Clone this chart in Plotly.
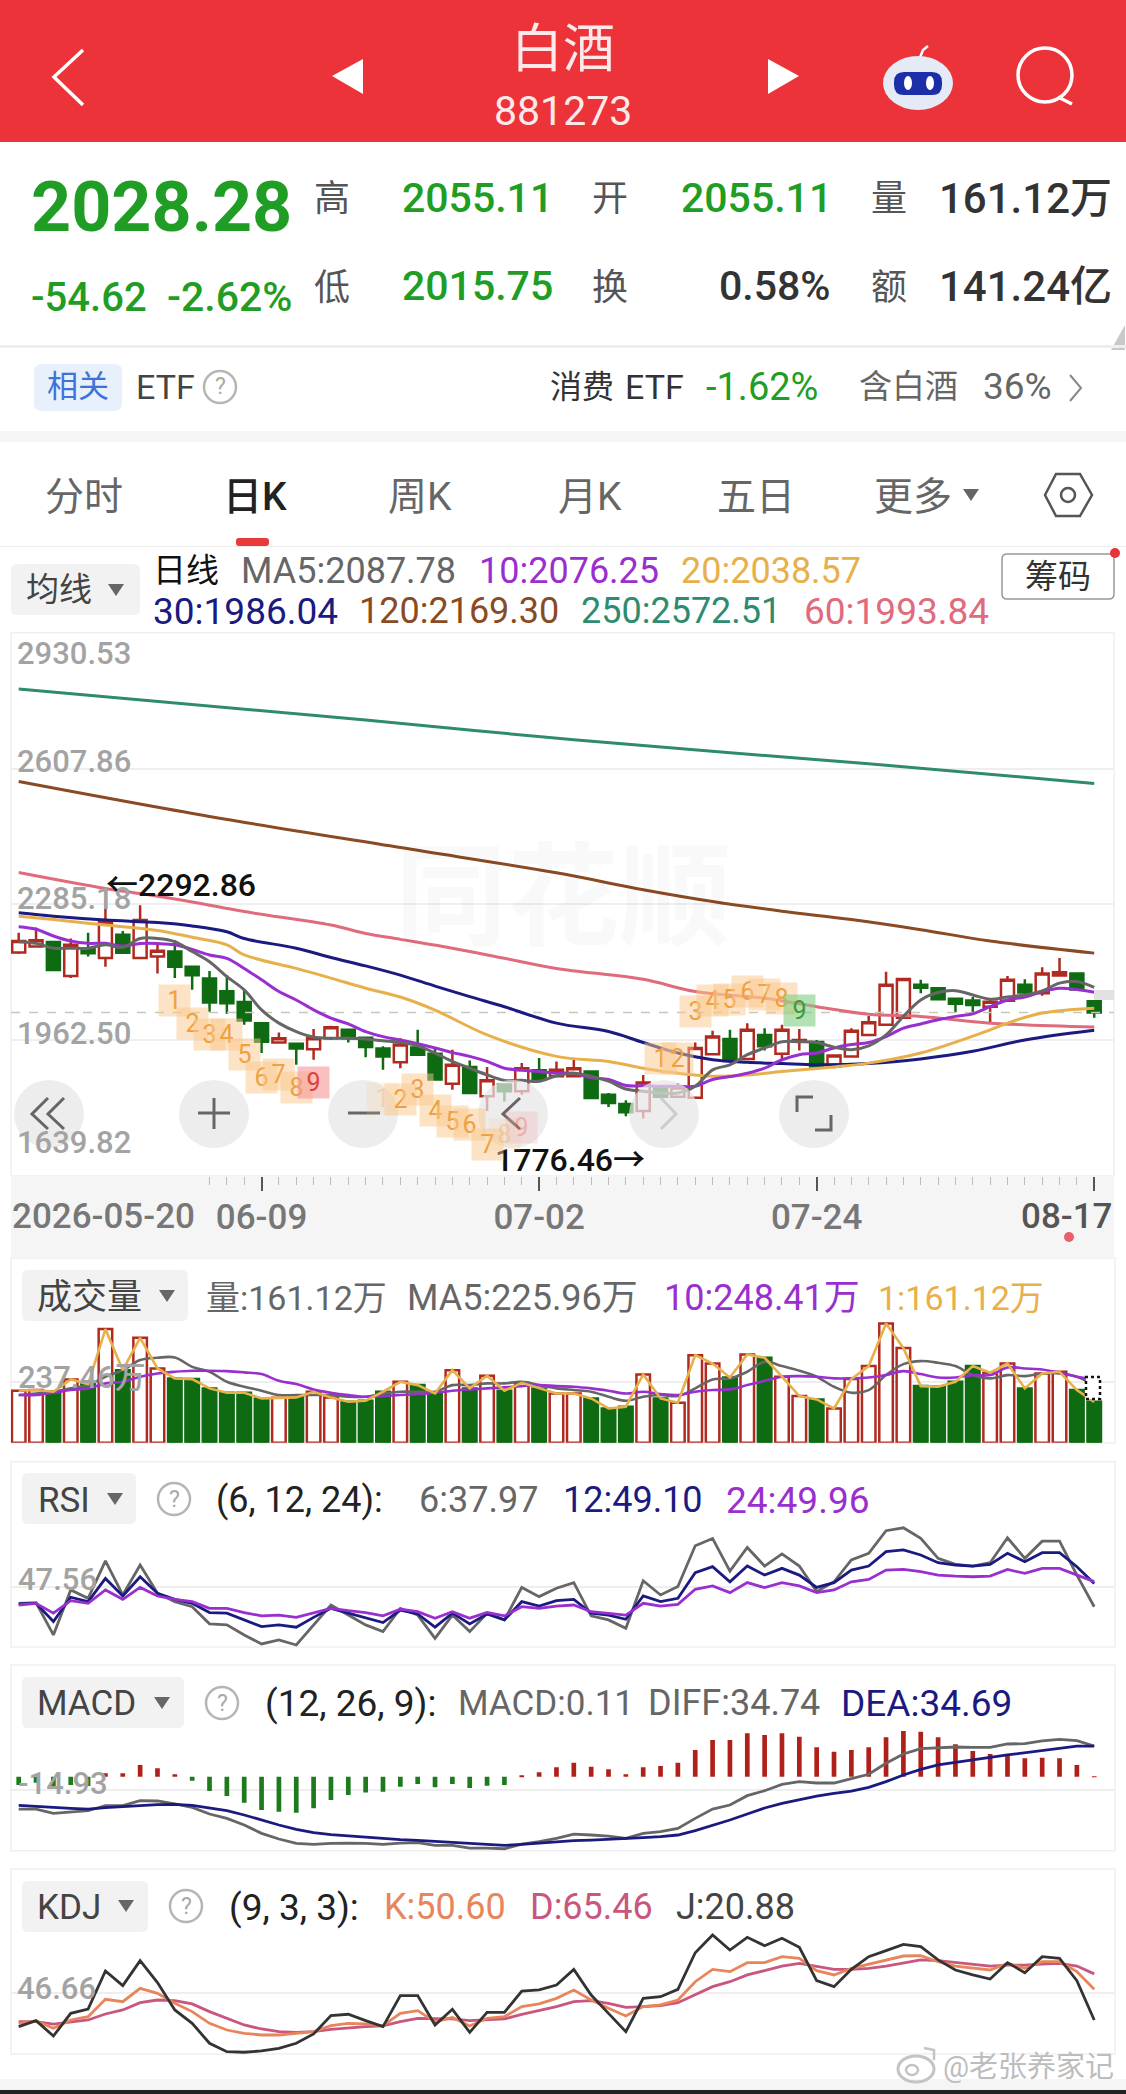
import plotly.graph_objects as go

W, H = 1126, 2094
FONT = "Roboto, Noto Sans CJK SC"

RED = "#b02a20"
GREEN = "#0f6b12"
UP_TXT = "#1f9d24"
C_MA5 = "#666666"
C_MA10 = "#9a2fd0"
C_MA20 = "#e8b04b"
C_MA30 = "#1a1a80"
C_MA60 = "#e06b7d"
C_MA120 = "#8a4a23"
C_MA250 = "#2e8b6f"

# daily candles
opens = [2171, 2185, 2196, 2115, 2181, 2158, 2213, 2158, 2161, 2173, 2137, 2109, 2079, 2053, 2003, 1957, 1954, 1941, 1967, 1987, 1968,
         1943, 1910, 1945, 1930, 1859, 1899, 1829, 1857, 1841, 1891, 1877, 1877, 1888, 1833, 1811, 1794, 1853, 1828, 1826, 1929, 1965,
         1918, 1975, 1930, 1959, 1958, 1900, 1924, 1975, 1999, 2016, 2094, 2086, 2061, 2057, 2042, 2056, 2094, 2074, 2116, 2121, 2055.11]
closes = [2198, 2200, 2129, 2189, 2169, 2244, 2170, 2248, 2175, 2137, 2117, 2052, 2050, 2009, 1959, 1967, 1943, 1967, 1993, 1967, 1946,
          1924, 1952, 1928, 1869, 1904, 1837, 1867, 1841, 1896, 1871, 1892, 1896, 1825, 1813, 1791, 1862, 1828, 1850, 1944, 1971, 1916,
          1987, 1948, 1987, 1963, 1900, 1926, 1985, 2005, 2094, 2108, 2087, 2060, 2049, 2046, 2054, 2106, 2076, 2121, 2124, 2083, 2028.28]
highs = [2218, 2230, 2197, 2204, 2218, 2292.86, 2222, 2283, 2196, 2200, 2139, 2127, 2117, 2082, 2003, 1981, 1956, 1989, 1997, 1987, 1970,
         1948, 1967, 1987, 1944, 1940, 1914, 1899, 1859, 1908, 1920, 1912, 1916, 1888, 1837, 1820, 1880, 1854, 1861, 1957, 1985, 1987,
         2003, 1991, 1999, 1989, 1963, 1928, 1991, 2020, 2125, 2108, 2106, 2087, 2063, 2065, 2060, 2115, 2107, 2136, 2158, 2123, 2055.11]
lows = [2167, 2183, 2128, 2110, 2161, 2137, 2169, 2157, 2121, 2110, 2082, 2030, 2025, 1999, 1932, 1956, 1904, 1916, 1963, 1957, 1922,
        1892, 1896, 1928, 1869, 1845, 1837, 1794, 1817, 1833, 1869, 1877, 1877, 1825, 1804, 1782, 1776.46, 1825, 1825, 1824, 1929, 1912,
        1918, 1938, 1916, 1938, 1900, 1896, 1924, 1975, 1999, 2016, 2074, 2058, 2028, 2027, 2005, 2054, 2066, 2068, 2115, 2082, 2015.75]

ma5 = [2196.5, 2192.5, 2181, 2181, 2181, 2189, 2183, 2204, 2204, 2196.5, 2173, 2149, 2113.5, 2082, 2034.5, 2003, 1983, 1970, 1967, 1967, 1965,
       1961, 1957, 1949, 1932, 1912, 1896, 1880, 1867, 1867, 1865, 1878, 1884, 1876.5, 1865, 1846.5, 1841, 1837, 1837, 1853, 1892, 1904,
       1928, 1944, 1959, 1959, 1957, 1946, 1940, 1949, 1975, 2019, 2058, 2075.6, 2080, 2070, 2060, 2065, 2070, 2079.5, 2098, 2102, 2087.78]
ma10 = [2232, 2226, 2210, 2198, 2192.5, 2192.5, 2186, 2192, 2192, 2189, 2178, 2165, 2157, 2133, 2106, 2078, 2058, 2034.5, 2015, 2001, 1983,
        1971, 1963, 1954, 1944, 1933, 1924, 1912, 1896, 1891, 1888, 1884, 1884, 1873, 1869, 1855, 1854, 1853, 1853, 1853, 1869, 1876,
        1884, 1896, 1916, 1928, 1932, 1944, 1952, 1957, 1971, 1991, 2001, 2011, 2019, 2025, 2042, 2058, 2065, 2078, 2086, 2083, 2076.25]
# the slower averages are read at fewer points along the line
ma20_x = [0, 2, 5, 8, 10, 12, 13, 16, 18, 20, 22, 24, 27, 31, 34, 36, 38, 40, 42, 44, 47, 49, 52, 56, 57, 59, 62]
ma20 = [2257, 2249, 2236, 2223, 2207, 2189, 2165, 2133, 2110, 2086, 2065, 2034, 1975, 1924, 1912, 1896, 1884, 1877, 1880, 1888, 1899, 1908, 1932, 1987, 2003, 2027, 2038.57]
ma30_x = [0, 2, 5, 8, 10, 12, 13, 16, 18, 20, 22, 24, 26, 28, 31, 34, 36, 38, 40, 42, 44, 46, 49, 52, 55, 58, 62]
ma30 = [2265, 2257, 2248, 2242, 2234, 2220, 2204, 2181, 2159, 2139, 2117, 2091, 2066, 2042, 2003, 1983, 1957, 1932, 1916, 1910, 1907, 1904, 1907, 1918, 1936, 1963, 1986.04]
ma60_x = [0, 5, 7, 10, 13, 18, 20, 22, 25, 28, 31, 36, 39, 43, 46, 49, 52, 56, 62]
ma60 = [2361, 2323, 2311, 2291, 2268, 2236, 2216, 2202, 2181, 2157, 2133, 2107, 2078, 2062, 2042, 2024, 2019, 2003, 1993.84]
ma120_x = [0, 11, 22, 31, 36, 40, 44, 48, 52, 56, 62]
ma120 = [2577, 2494, 2420, 2360, 2320, 2292, 2269, 2249, 2225, 2198, 2169.30]
ma250_x = [0, 20, 32, 49, 62]
ma250 = [2797, 2723, 2676, 2619, 2572.51]

# magic nine count tags
td_x = [9, 10, 11, 12, 13, 14, 15, 16, 17, 21, 22, 23, 24, 25, 26, 27, 28, 29, 37, 38, 39, 40, 41, 42, 43, 44, 45]
td_y = [2057, 2003, 1975, 1975, 1928, 1873, 1880, 1849, 1861, 1825, 1821, 1846, 1796, 1770, 1762, 1714, 1738, 1754, 1920, 1920, 2030, 2057, 2058, 2078, 2070, 2062, 2034]
td_n = [1, 2, 3, 4, 5, 6, 7, 8, 9, 1, 2, 3, 4, 5, 6, 7, 8, 9, 1, 2, 3, 4, 5, 6, 7, 8, 9]

price_ticks = [2930.53, 2607.86, 2285.18, 1962.50, 1639.82]
date_ticks = [14, 30, 46, 62]
date_labels = ["06-09", "07-02", "07-24", ""]

vol = [204.8, 207.4, 200.8, 249.4, 231, 447.6, 286, 413.5, 292.7, 253.4, 250.7, 214, 197, 197, 174.6, 177, 178.5, 200.8, 178.5, 161.5, 165.4,
       200.8, 240, 227, 194, 286, 214, 264, 204.8, 236, 214, 194, 194, 174.6, 135, 141.8, 269, 174.6, 157.5, 345, 312, 257,
       348, 334.7, 260, 183.8, 170.6, 135, 250.7, 302, 470, 372.8, 223, 220.5, 240, 302, 275.7, 312, 214, 273, 279.6, 207.4, 161.12]
vol_ma5 = [187.7, 194, 200.8, 214, 227, 260, 286, 325.5, 334.7, 336, 299, 279.6, 240, 220.5, 204.8, 187.7, 187.7, 187.7, 187.7, 181, 181,
           194, 200.8, 200.8, 200.8, 227, 227, 233.7, 233.7, 240, 227, 214, 207.4, 200.8, 181, 165.4, 181, 187.7, 183.8, 214, 249.4, 253.4,
           279.6, 319, 302, 283.5, 260, 220.5, 197, 207.4, 266.5, 309.8, 321.6, 315, 302, 266.5, 253.4, 266.5, 262.5, 273, 273, 260, 225.96]
vol_ma10 = [187.7, 187.7, 197, 207.4, 214, 233.7, 240, 260, 273, 279.6, 283.5, 283.5, 282, 277, 270.4, 244, 231, 210, 197, 187.7, 181,
            183.8, 187.7, 191.7, 197, 204.8, 210, 214, 218, 223, 227, 223, 220.5, 214, 204.8, 194, 200.8, 191.7, 187.7, 200.8, 207.4, 210,
            227, 244, 260, 262.5, 260, 253.4, 253.4, 257, 266.5, 282, 270.4, 257, 257, 266.5, 266.5, 296.7, 292.7, 288.8, 275.7, 260, 248.41]

rsi6 = [39.6, 39.9, 24.5, 46.0, 42.0, 59.9, 43.6, 57.9, 44.4, 40.4, 38.0, 29.8, 29.3, 24.5, 20.2, 22.1, 19.7, 29.3, 38.8, 34.0, 29.3,
        26.1, 37.2, 34.0, 22.9, 34.0, 26.1, 34.8, 31.7, 47.2, 42.8, 46.8, 49.5, 33.6, 31.7, 27.7, 50.4, 43.6, 47.6, 67.1, 70.6, 55.0,
        66.3, 57.4, 63.2, 57.4, 45.2, 49.9, 60.3, 63.5, 74.3, 75.7, 70.6, 61.1, 58.2, 57.4, 59.0, 70.9, 61.1, 69.3, 69.3, 53.1, 37.97]
rsi12 = [39.3, 39.6, 30.9, 42.5, 40.4, 51.5, 43.1, 52.3, 44.4, 41.5, 39.6, 35.2, 34.9, 31.7, 28.5, 29.3, 28.2, 32.9, 37.2, 34.9, 32.5,
         30.4, 36.4, 34.5, 28.2, 34.9, 29.8, 34.5, 31.7, 40.4, 38.3, 40.9, 41.5, 34.9, 34.0, 32.0, 43.1, 40.4, 42.0, 54.2, 57.1, 49.9,
         57.4, 53.1, 56.3, 53.1, 47.2, 49.5, 55.5, 57.4, 64.3, 65.1, 62.7, 59.0, 57.9, 57.4, 58.2, 63.5, 59.5, 63.8, 63.8, 57.1, 49.10]
rsi24 = [38.8, 39.6, 34.9, 40.9, 39.6, 46.0, 41.5, 47.2, 43.1, 41.5, 40.4, 37.2, 37.2, 35.2, 33.6, 34.0, 32.9, 34.9, 37.2, 36.1, 35.2,
         33.6, 36.8, 35.6, 32.5, 35.6, 32.5, 35.2, 33.6, 38.0, 37.2, 38.3, 38.8, 35.6, 34.9, 34.0, 39.6, 38.3, 39.1, 46.3, 47.9, 44.7,
         49.5, 47.1, 49.5, 47.9, 44.7, 46.0, 49.9, 51.0, 55.5, 55.8, 54.7, 53.1, 52.6, 52.3, 52.6, 55.8, 53.9, 56.3, 56.3, 53.1, 49.96]

macd_bar = [-9.3, -6.6, -13.0, -9.3, -10.4, 3.9, 3.9, 13.3, 9.5, 2.8, -4.4, -16.1, -21.7, -29.2, -37.5, -39.4, -40.5, -35.6, -26.2, -20.6, -17.6,
            -16.8, -11.2, -8.2, -11.9, -8.2, -12.7, -10.0, -9.3, 0.9, 5.0, 10.7, 15.9, 11.4, 8.4, 2.8, 10.7, 12.2, 15.9, 30.2, 41.5, 41.5,
            49.0, 47.2, 49.0, 45.3, 33.2, 28.3, 30.2, 33.2, 44.5, 51.7, 50.9, 44.5, 36.6, 29.1, 25.7, 24.6, 20.8, 21.6, 20.8, 13.3, 0.11]
diff = [-36.4, -36.4, -41.3, -39.4, -38.3, -32.6, -32.6, -27.0, -27.3, -30.7, -34.5, -42.0, -46.9, -54.4, -63.8, -70.2, -75.1, -76.3, -75.1, -74.8, -75.1,
        -76.3, -74.8, -74.4, -77.4, -77.4, -80.4, -80.4, -81.2, -75.9, -73.2, -69.5, -64.6, -65.7, -66.9, -69.5, -63.8, -62.0, -58.2, -46.9, -36.4, -31.9,
        -21.3, -15.7, -8.5, -5.5, -7.0, -7.0, -1.8, 2.8, 15.2, 25.7, 31.7, 32.9, 33.6, 33.2, 33.2, 37.0, 37.4, 40.4, 42.3, 40.8, 34.74]
dea = [-32.2, -33.0, -34.5, -35.6, -36.4, -34.9, -34.1, -32.6, -31.5, -31.1, -32.2, -34.9, -38.3, -43.1, -48.8, -54.4, -59.3, -63.1, -65.3, -66.9, -68.4,
       -69.9, -71.0, -71.7, -72.9, -73.6, -75.1, -76.3, -77.4, -76.3, -74.8, -73.6, -72.1, -71.4, -70.6, -70.2, -68.7, -67.6, -65.7, -60.8, -55.2, -48.8,
       -42.0, -35.2, -30.0, -25.5, -21.7, -18.7, -16.1, -11.9, -5.5, 2.0, 8.4, 13.3, 16.3, 19.7, 22.0, 24.6, 27.2, 30.2, 32.9, 34.7, 34.69]

kdj_j = [14.5, 20.3, 5.4, 27.3, 31.5, 68.2, 54.1, 78.2, 57.0, 30.6, 17.7, -1.6, -9.7, -10.3, -9.0, -6.5, -1.6, 7.4, 25.1, 26.4, 20.3,
         14.5, 44.4, 44.4, 16.1, 31.2, 9.0, 28.3, 28.3, 48.9, 49.9, 54.7, 69.8, 45.0, 27.3, 9.6, 41.8, 43.4, 50.5, 85.9, 103.0, 88.5,
         100.8, 92.7, 99.8, 91.1, 58.9, 53.1, 69.8, 82.1, 87.9, 94.0, 91.7, 78.9, 69.2, 64.4, 60.5, 76.3, 66.6, 82.1, 80.5, 58.9, 20.88]
kdj_k = [17.7, 19.9, 12.9, 20.9, 24.1, 40.9, 38.6, 51.5, 46.7, 37.0, 29.0, 17.7, 11.2, 8.0, 6.4, 6.4, 8.0, 9.6, 15.4, 17.7, 17.0,
         15.4, 27.3, 29.9, 19.3, 23.2, 15.1, 22.5, 24.1, 33.8, 36.4, 41.8, 49.9, 40.2, 32.2, 24.8, 33.8, 35.4, 40.2, 57.9, 69.8, 67.6,
         76.3, 76.3, 82.1, 80.5, 68.6, 64.4, 70.8, 75.0, 78.9, 82.7, 83.0, 77.2, 73.0, 70.8, 69.2, 75.6, 70.8, 77.2, 77.2, 67.6, 50.60]
kdj_d = [19.3, 19.3, 17.0, 19.3, 20.9, 26.7, 30.6, 37.6, 40.2, 39.6, 36.4, 29.0, 22.5, 16.1, 12.2, 9.6, 9.0, 9.6, 11.9, 13.5, 14.5,
         15.1, 19.3, 22.5, 21.9, 21.9, 20.3, 20.9, 21.9, 26.4, 29.9, 33.8, 38.6, 39.6, 37.0, 33.1, 33.8, 34.7, 37.6, 45.0, 53.1, 57.9,
         64.4, 68.6, 73.0, 75.6, 73.0, 69.8, 69.8, 70.8, 73.0, 76.3, 78.9, 78.2, 76.6, 75.0, 73.0, 74.0, 74.0, 75.0, 75.6, 73.0, 65.46]

idx = list(range(63))
X_RANGE = [-0.444, 63.14]
rising = [c >= o for o, c in zip(opens, closes)]

shapes = []
notes = []


def fx(x):
    return x / W


def fy(y):
    return 1 - y / H


def rect(x0, y0, x1, y1, fill="rgba(0,0,0,0)", line=None, lw=1, layer="below"):
    shapes.append(dict(type="rect", xref="paper", yref="paper", x0=fx(x0), x1=fx(x1), y0=fy(y0), y1=fy(y1),
                       fillcolor=fill, line=dict(color=line or fill, width=lw if line else 0), layer=layer))


def rrect(x0, y0, x1, y1, r, fill, line=None, lw=1, layer="below"):
    p = (f"M{fx(x0 + r)},{fy(y0)} L{fx(x1 - r)},{fy(y0)} Q{fx(x1)},{fy(y0)} {fx(x1)},{fy(y0 + r)} "
         f"L{fx(x1)},{fy(y1 - r)} Q{fx(x1)},{fy(y1)} {fx(x1 - r)},{fy(y1)} L{fx(x0 + r)},{fy(y1)} "
         f"Q{fx(x0)},{fy(y1)} {fx(x0)},{fy(y1 - r)} L{fx(x0)},{fy(y0 + r)} Q{fx(x0)},{fy(y0)} {fx(x0 + r)},{fy(y0)} Z")
    shapes.append(dict(type="path", xref="paper", yref="paper", path=p, fillcolor=fill,
                       line=dict(color=line or fill, width=lw if line else 0), layer=layer))


def poly(pts, color=None, lw=3, fill=None, close=False, layer="above"):
    p = "M" + " L".join(f"{fx(x)},{fy(y)}" for x, y in pts) + (" Z" if close else "")
    shapes.append(dict(type="path", xref="paper", yref="paper", path=p, fillcolor=fill or "rgba(0,0,0,0)",
                       line=dict(color=color or fill, width=lw if color else 0), layer=layer))


def oval(cx, cy, rx, ry, fill="rgba(0,0,0,0)", line=None, lw=2, opacity=1, layer="above"):
    shapes.append(dict(type="circle", xref="paper", yref="paper", x0=fx(cx - rx), x1=fx(cx + rx),
                       y0=fy(cy + ry), y1=fy(cy - ry), fillcolor=fill, opacity=opacity,
                       line=dict(color=line or fill, width=lw if line else 0), layer=layer))


def txt(x, y, s, size, color, anchor="left", weight=400):
    notes.append(dict(xref="paper", yref="paper", x=fx(x), y=fy(y), text=s, showarrow=False, xanchor=anchor,
                      yanchor="middle", borderpad=0, font=dict(family=FONT, size=size, color=color, weight=weight)))


def caret(x, y):
    poly([(x - 8, y - 6), (x + 8, y - 6), (x, y + 6)], fill="#666666", close=True)


def question(x, y):
    oval(x, y, 16, 16, line="#b5b5b5", lw=2.5)
    txt(x, y, "?", 23, "#a8a8a8", anchor="center")


# header
rect(0, 0, W, 142, fill="#ec3339")
poly([(83, 50), (54, 77), (83, 105)], color="white", lw=3.5)
poly([(363, 59), (332, 76), (363, 94)], fill="white", close=True)
poly([(768, 59), (799, 76), (768, 94)], fill="white", close=True)
txt(563, 50, "白酒", 52, "#fde9e9", anchor="center")
txt(563, 111, "881273", 41, "#fde9e9", anchor="center")
poly([(919, 60), (923, 50), (928, 46)], color="white", lw=2.5)
oval(918, 83, 35, 27, fill="#e4ebf7")
rrect(894, 72, 942, 95, 10, "#1c2fa8", layer="above")
oval(908, 83, 4, 7, fill="white")
oval(930, 83, 4, 7, fill="white")
oval(1045, 75, 27, 27, line="white", lw=3.5)
poly([(1058, 97), (1072, 104)], color="white", lw=3.5)

# quote block
rect(0, 142, W, 345, fill="white")
txt(30, 207, "2028.28", 70, UP_TXT, weight=700)
txt(30, 297, "-54.62", 40, UP_TXT, weight=500)
txt(166, 297, "-2.62%", 41, UP_TXT, weight=500)
txt(332, 199, "高", 36, "#555555", anchor="center")
txt(332, 288, "低", 36, "#555555", anchor="center")
txt(610, 199, "开", 36, "#555555", anchor="center")
txt(610, 288, "换", 36, "#555555", anchor="center")
txt(889, 199, "量", 36, "#555555", anchor="center")
txt(889, 288, "额", 36, "#555555", anchor="center")
txt(401, 198, "2055.11", 41, UP_TXT, weight=500)
txt(401, 286, "2015.75", 41, UP_TXT, weight=500)
txt(680, 198, "2055.11", 41, UP_TXT, weight=500)
txt(832, 286, "0.58%", 41, "#333333", anchor="right", weight=500)
txt(938, 198, "161.12万", 42, "#333333", weight=500)
txt(938, 286, "141.24亿", 42, "#333333", weight=500)
poly([(1125, 325), (1125, 350), (1111, 350)], fill="#c9c9c9", close=True, layer="below")

# related etf row
rect(0, 345, W, 348, fill="#eeeeee")
rrect(34, 364, 122, 411, 8, "#e8f0fc")
txt(78, 387, "相关", 31, "#3d72d8", anchor="center")
txt(135, 387, "ETF", 34, "#444444")
question(220, 387)
txt(549, 387, "消费", 32, "#333333")
txt(624, 387, "ETF", 34, "#333333")
txt(705, 387, "-1.62%", 38, UP_TXT)
txt(858, 387, "含白酒", 33, "#666666")
txt(982, 387, "36%", 37, "#666666")
poly([(1070, 375), (1081, 388), (1070, 401)], color="#888888", lw=2)
rect(0, 431, W, 442, fill="#f5f5f5")

# tabs
txt(84, 497, "分时", 39, "#666666", anchor="center")
txt(255, 497, "日K", 39, "#222222", anchor="center", weight=500)
txt(420, 497, "周K", 39, "#666666", anchor="center")
txt(590, 497, "月K", 39, "#666666", anchor="center")
txt(756, 497, "五日", 39, "#666666", anchor="center")
txt(913, 497, "更多", 39, "#666666", anchor="center")
caret(971, 495)
poly([(1045, 495), (1056, 474), (1080, 474), (1092, 495), (1080, 516), (1056, 516)], color="#555555", lw=2.5, close=True)
oval(1068, 495, 7, 7, line="#555555", lw=2.5)
rrect(236, 538, 269, 546, 3, "#e83a3a")
rect(0, 546, W, 547, fill="#eeeeee")

# moving average legend
rrect(11, 564, 140, 615, 6, "#f2f2f2")
txt(25, 589, "均线", 33, "#444444")
caret(116, 590)
txt(152, 570, "日线", 33, "#111111")
txt(240, 571, "MA5:2087.78", 36, C_MA5)
txt(478, 571, "10:2076.25", 36, C_MA10)
txt(680, 571, "20:2038.57", 36, C_MA20)
txt(152, 611, "30:1986.04", 37, C_MA30)
txt(358, 611, "120:2169.30", 36, C_MA120)
txt(580, 611, "250:2572.51", 36, C_MA250)
txt(803, 611, "60:1993.84", 37, C_MA60)
rrect(1002, 554, 1114, 599, 5, "white", line="#999999", lw=1.5)
txt(1058, 576, "筹码", 33, "#333333", anchor="center")
oval(1115, 553, 5, 5, fill="#e8333a")

# panel frames
rect(11, 632.7, 1114, 1176, line="#f0f0f0", lw=1.5)
rect(11, 1176, 1114, 1257, fill="#f5f5f5")
rect(11, 1258, 1115, 1443, line="#f0f0f0", lw=1.5)
rect(11, 1461.7, 1115, 1647, line="#f0f0f0", lw=1.5)
rect(11, 1665, 1115, 1850.7, line="#f0f0f0", lw=1.5)
rect(11, 1869, 1115, 2054, line="#f0f0f0", lw=1.5)
rect(0, 2079, W, 2090, fill="#f5f5f5")
rect(0, 2090, W, H, fill="#222222")

# faint logo behind the candles
txt(563, 898, "同花顺", 112, "rgba(0,0,0,0.022)", anchor="center", weight=700)

# price axis labels sit a little off their grid lines
for val, shift in zip(price_ticks, [-21, 7, 6, 7, 34]):
    notes.append(dict(xref="paper", yref="y", x=fx(16), y=val, yshift=shift, text=f"{val:.2f}", showarrow=False,
                      xanchor="left", yanchor="middle", borderpad=0, font=dict(family=FONT, size=31, color="#a3a3a3", weight=500)))

# extreme price markers
txt(105, 885, "←2292.86", 32, "#111111", weight=500)
txt(494, 1160, "1776.46→", 32, "#111111", weight=500)

# date strip
txt(11, 1216, "2026-05-20", 35, "#777777", weight=500)
txt(1113, 1216, "08-17", 35, "#555555", anchor="right", weight=500)
oval(1069, 1237, 5, 5, fill="#e8606a")
rect(1094, 990, 1114, 1000, fill="#e2e2e2", layer="above")

# nine count tags
for i, n, y in zip(td_x, td_n, td_y):
    faded = (i, n) in [(21, 1), (28, 8), (29, 9)]
    bg, fc = "rgba(250,200,140,0.5)", "#f0a040"
    if n == 9 and i < 30:
        bg, fc = "rgba(245,150,150,0.6)", "#e0403a"
    if n == 9 and i > 30:
        bg, fc = "rgba(130,205,130,0.6)", "#3b9c3b"
    notes.append(dict(xref="x", yref="y", x=i, y=y, text=str(n), showarrow=False, width=29, height=29, bgcolor=bg,
                      opacity=0.35 if faded else 1, font=dict(family=FONT, size=25, color=fc)))

# zoom buttons over the chart
for cx in [49, 214, 363, 513, 664, 814]:
    oval(cx, 1114, 35, 34, fill="#e6e6e6", opacity=0.72)
poly([(48, 1098), (32, 1114), (48, 1129)], color="#666666", lw=3)
poly([(64, 1098), (48, 1114), (64, 1129)], color="#666666", lw=3)
poly([(198, 1113), (230, 1113)], color="#666666", lw=3)
poly([(214, 1098), (214, 1129)], color="#666666", lw=3)
poly([(348, 1113), (380, 1113)], color="#666666", lw=3)
poly([(520, 1098), (503, 1114), (520, 1129)], color="#666666", lw=3)
poly([(661, 1098), (676, 1114), (661, 1129)], color="#cccccc", lw=3)
poly([(797, 1112), (797, 1097), (813, 1097)], color="#666666", lw=3)
poly([(831, 1115), (831, 1130), (815, 1130)], color="#666666", lw=3)

# volume header
rrect(22, 1270, 188, 1321, 6, "#f2f2f2")
txt(36, 1297, "成交量", 35, "#444444")
caret(167, 1296)
txt(205, 1298, "量:161.12万", 34, "#666666")
txt(406, 1298, "MA5:225.96万", 36, "#666666")
txt(663, 1298, "10:248.41万", 36, C_MA10)
txt(877, 1298, "1:161.12万", 34, C_MA20)
txt(17, 1377, "237.46万", 31, "#a3a3a3", weight=500)
shapes.append(dict(type="rect", xref="paper", yref="paper", x0=fx(1086), x1=fx(1100), y0=fy(1399), y1=fy(1377),
                   line=dict(color="#111111", width=2.5, dash="dot"), fillcolor="white", layer="above"))

# rsi header
rrect(22, 1473, 136, 1524, 6, "#f2f2f2")
txt(37, 1500, "RSI", 35, "#444444")
caret(115, 1499)
question(174, 1499)
txt(215, 1500, "(6, 12, 24):", 36, "#222222")
txt(418, 1500, "6:37.97", 36, "#666666")
txt(562, 1500, "12:49.10", 36, C_MA30)
txt(725, 1500, "24:49.96", 37, C_MA10)
txt(17, 1579, "47.56", 31, "#a3a3a3", weight=500)

# macd header
rrect(22, 1677, 184, 1728, 6, "#f2f2f2")
txt(36, 1703, "MACD", 35, "#444444")
caret(162, 1703)
question(222, 1703)
txt(264, 1703, "(12, 26, 9):", 37, "#222222")
txt(457, 1703, "MACD:0.11", 35, "#666666")
txt(647, 1703, "DIFF:34.74", 36, "#666666")
txt(840, 1703, "DEA:34.69", 37, C_MA30)
txt(17, 1783, "-14.93", 31, "#a3a3a3", weight=500)

# kdj header
rrect(22, 1881, 148, 1932, 6, "#f2f2f2")
txt(36, 1907, "KDJ", 35, "#444444")
caret(126, 1906)
question(186, 1906)
txt(228, 1907, "(9, 3, 3):", 37, "#222222")
txt(383, 1907, "K:50.60", 36, "#e8855a")
txt(529, 1907, "D:65.46", 36, "#c9567e")
txt(675, 1907, "J:20.88", 36, "#444444")
txt(16, 1988, "46.66", 31, "#a3a3a3", weight=500)

# weibo watermark
oval(916, 2069, 18, 13, line="#c4c4c4", lw=3)
oval(912, 2070, 6, 5, line="#c4c4c4", lw=2.5)
poly([(924, 2048), (934, 2050), (934, 2060)], color="#c4c4c4", lw=2.5)
txt(942, 2067, "@老张养家记", 29, "#bdbdbd")

fig = go.Figure()

fig.add_trace(go.Candlestick(x=idx, open=opens, high=highs, low=lows, close=closes, whiskerwidth=0,
                             increasing=dict(line=dict(color=RED, width=2.5), fillcolor="white"),
                             decreasing=dict(line=dict(color=GREEN, width=2.5), fillcolor=GREEN),
                             xaxis="x", yaxis="y"))
fig.add_trace(go.Scatter(x=X_RANGE, y=[closes[-1], closes[-1]], mode="lines", xaxis="x", yaxis="y",
                         line=dict(color="#c8c8b8", width=1.5, dash="dash")))
for xs, ys, color in [(ma250_x, ma250, C_MA250), (ma120_x, ma120, C_MA120), (ma60_x, ma60, C_MA60),
                      (ma30_x, ma30, C_MA30), (ma20_x, ma20, C_MA20)]:
    fig.add_trace(go.Scatter(x=xs, y=ys, mode="lines", line=dict(color=color, width=3, shape="spline"), xaxis="x", yaxis="y"))
fig.add_trace(go.Scatter(x=idx, y=ma10, mode="lines", line=dict(color=C_MA10, width=3, shape="spline"), xaxis="x", yaxis="y"))
fig.add_trace(go.Scatter(x=idx, y=ma5, mode="lines", line=dict(color=C_MA5, width=3, shape="spline"), xaxis="x", yaxis="y"))

fig.add_trace(go.Bar(x=idx, y=vol, width=0.78, xaxis="x2", yaxis="y2",
                     marker=dict(color=["white" if r else GREEN for r in rising],
                                 line=dict(color=[RED if r else GREEN for r in rising], width=2.5))))
fig.add_trace(go.Scatter(x=idx, y=vol_ma5, mode="lines", line=dict(color=C_MA5, width=2.6, shape="spline"), xaxis="x2", yaxis="y2"))
fig.add_trace(go.Scatter(x=idx, y=vol_ma10, mode="lines", line=dict(color=C_MA10, width=2.6, shape="spline"), xaxis="x2", yaxis="y2"))
fig.add_trace(go.Scatter(x=idx, y=vol, mode="lines", line=dict(color=C_MA20, width=2.6), xaxis="x2", yaxis="y2"))

for ys, color in [(rsi6, C_MA5), (rsi12, C_MA30), (rsi24, C_MA10)]:
    fig.add_trace(go.Scatter(x=idx, y=ys, mode="lines", line=dict(color=color, width=2.8), xaxis="x3", yaxis="y3"))

fig.add_trace(go.Bar(x=idx, y=macd_bar, width=0.27, xaxis="x4", yaxis="y4",
                     marker=dict(color=["#b0201a" if v > 0 else "#1d7a1d" for v in macd_bar], line=dict(width=0))))
fig.add_trace(go.Scatter(x=idx, y=diff, mode="lines", line=dict(color=C_MA5, width=2.8), xaxis="x4", yaxis="y4"))
fig.add_trace(go.Scatter(x=idx, y=dea, mode="lines", line=dict(color=C_MA30, width=2.8), xaxis="x4", yaxis="y4"))

for ys, color in [(kdj_d, "#c9567e"), (kdj_k, "#e8855a"), (kdj_j, "#333333")]:
    fig.add_trace(go.Scatter(x=idx, y=ys, mode="lines", line=dict(color=color, width=2.8), xaxis="x5", yaxis="y5"))


def x_axis(anchor, **kw):
    base = dict(domain=[11 / W, 1114 / W], range=X_RANGE, anchor=anchor, showgrid=False, zeroline=False, showline=False,
                showticklabels=False, fixedrange=True, rangeslider=dict(visible=False))
    base.update(kw)
    return base


def y_axis(anchor, top, bottom, rng, grid):
    return dict(domain=[1 - bottom / H, 1 - top / H], range=rng, anchor=anchor, tickvals=grid, showticklabels=False, ticks="",
                showgrid=True, gridcolor="#eeeeee", gridwidth=1.5, zeroline=False, showline=False, fixedrange=True)


fig.update_layout(
    width=W, height=H, autosize=False, showlegend=False, margin=dict(l=0, r=0, t=0, b=0),
    paper_bgcolor="white", plot_bgcolor="rgba(0,0,0,0)", boxgap=0.25, boxgroupgap=0, barmode="overlay", hovermode=False,
    font=dict(family=FONT),
    xaxis=x_axis("y", tickvals=date_ticks, ticktext=date_labels, showticklabels=True, ticks="outside", ticklen=14, tickwidth=1.5,
                 tickcolor="#555555", ticklabelstandoff=-4, tickfont=dict(family=FONT, size=35, color="#777777", weight=500),
                 minor=dict(tickvals=[i for i in range(11, 62) if i not in date_ticks], ticks="outside", ticklen=8, tickwidth=1, tickcolor="#bbbbbb")),
    yaxis=y_axis("x", 632.7, 1176, [1639.82, 2930.53], price_ticks),
    xaxis2=x_axis("y2"),
    yaxis2=y_axis("x2", 1320.9, 1442.7, [0, 480], [237.46]),
    xaxis3=x_axis("y3"),
    yaxis3=y_axis("x3", 1520, 1647.3, [18.6, 79.4], [47.56]),
    xaxis4=x_axis("y4"),
    yaxis4=y_axis("x4", 1728.3, 1850.7, [-83.4, 54.7], [-14.93]),
    xaxis5=x_axis("y5"),
    yaxis5=y_axis("x5", 1931.7, 2054.3, [-12.26, 106.2], [46.66]),
    shapes=shapes, annotations=notes,
)

fig.write_html("out.html", config=dict(displayModeBar=False),
               post_script="document.body.style.margin='0';document.documentElement.style.overflow='hidden';")
